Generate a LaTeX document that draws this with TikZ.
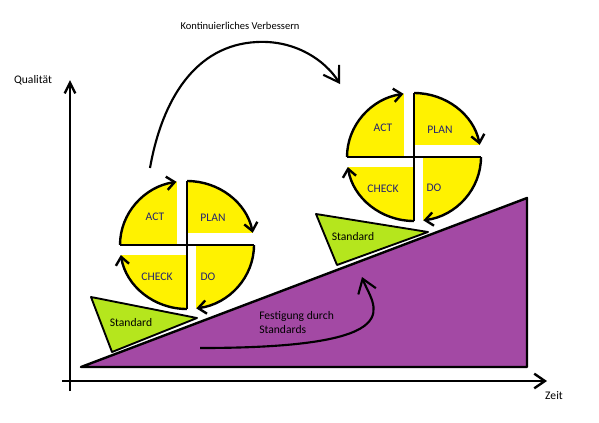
\documentclass[tikz,border=0pt]{standalone}
\usepackage{fontspec}
\setmainfont{Carlito}
\usetikzlibrary{arrows.meta}

\begin{document}
\begin{tikzpicture}[x=0.75pt,y=0.75pt,yscale=-1,xscale=1,
  thick line/.style={line width=1.8pt},
  wheel tip/.style={-{Straight Barb[length=6pt,width=10pt]}},
  lbl/.style={inner sep=0.75pt,font=\fontsize{8.7}{10.5}\selectfont,text={rgb, 255:red, 36; green, 36; blue, 112 }},
  txt/.style={inner sep=0.75pt,font=\fontsize{8.7}{10.5}\selectfont},
]
\useasboundingbox (0,0) rectangle (599,422);

%Shape: Polygon [id:ramp] 
\draw [thick line,line join=round,fill={rgb, 255:red, 163; green, 73; blue, 164 }  ,fill opacity=1 ] (81,367) -- (527,198) -- (527,367) -- cycle ;
%Shape: Triangle [id:std1] 
\draw [line width=1.4pt,line join=round,fill={rgb, 255:red, 181; green, 230; blue, 29 }  ,fill opacity=1 ] (91,297) -- (197,318) -- (112,352) -- cycle ;
%Shape: Triangle [id:std2] 
\draw [line width=1.4pt,line join=round,fill={rgb, 255:red, 181; green, 230; blue, 29 }  ,fill opacity=1 ] (316,214) -- (428,232) -- (337,265) -- cycle ;

%Straight Lines [id:yaxis] 
\coordinate (ybot) at (70,391) ;
\coordinate (ytop) at (70,80) ;
\draw [thick line,-{Straight Barb[length=8pt,width=8pt]}] (ybot) -- (ytop) ;
%Straight Lines [id:xaxis] 
\coordinate (xleft) at (62,381) ;
\coordinate (xright) at (547,381) ;
\draw [thick line,-{Straight Barb[length=8pt,width=11pt]}] (xleft) -- (xright) ;

%Shape: PDCA wheel [id:wheel1] 
\begin{scope}[shift={(187,245)}]
\fill [fill={rgb, 255:red, 255; green, 242; blue, 0 }] (0,0) ellipse [x radius=67, y radius=64] ;
\fill [white] (-10,-67) rectangle (0,0) ;
\fill [white] (0,-12) rectangle (70,0) ;
\fill [white] (0,0) rectangle (9,67) ;
\fill [white] (-70,0) rectangle (0,10) ;
\draw [thick line] (-67,0) -- (67,0) ;
\draw [thick line] (0,-64) -- (0,64) ;
\draw [thick line,wheel tip] (-67,0) arc [start angle=180,end angle=261,x radius=67,y radius=64] ;
\draw [thick line,wheel tip] (0,-64) arc [start angle=270,end angle=349,x radius=67,y radius=64] ;
\draw [thick line,wheel tip] (67,0) arc [start angle=0,end angle=82,x radius=67,y radius=64] ;
\draw [thick line,wheel tip] (0,64) arc [start angle=90,end angle=171,x radius=67,y radius=64] ;
\end{scope}

%Shape: PDCA wheel [id:wheel2] 
\begin{scope}[shift={(414,157)}]
\fill [fill={rgb, 255:red, 255; green, 242; blue, 0 }] (0,0) ellipse [x radius=67, y radius=64] ;
\fill [white] (-10,-67) rectangle (0,0) ;
\fill [white] (0,-12) rectangle (70,0) ;
\fill [white] (0,0) rectangle (9,67) ;
\fill [white] (-70,0) rectangle (0,10) ;
\draw [thick line] (-67,0) -- (67,0) ;
\draw [thick line] (0,-64) -- (0,64) ;
\draw [thick line,wheel tip] (-67,0) arc [start angle=180,end angle=261,x radius=67,y radius=64] ;
\draw [thick line,wheel tip] (0,-64) arc [start angle=270,end angle=349,x radius=67,y radius=64] ;
\draw [thick line,wheel tip] (67,0) arc [start angle=0,end angle=82,x radius=67,y radius=64] ;
\draw [thick line,wheel tip] (0,64) arc [start angle=90,end angle=171,x radius=67,y radius=64] ;
\end{scope}

%Curve Lines [id:improve] 
\coordinate (kvstart) at (150,168) ;
\coordinate (kvtop) at (257,42) ;
\coordinate (kvend) at (340,84) ;
\draw [line width=1.6pt,-{Straight Barb[length=11pt,width=14pt]}] (kvstart) .. controls (162,100) and (195,45) .. (kvtop) .. controls (295,40) and (325,60) .. (kvend) ;
%Curve Lines [id:settle] 
\coordinate (fgstart) at (200,348) ;
\coordinate (fgend) at (362,277) ;
\draw [line width=1.6pt,-{Straight Barb[length=10pt,width=14pt]}] (fgstart) .. controls (420,348) and (372,305) .. (fgend) ;

% Text Node
\draw (155,217) node [lbl] (act1) {ACT};
% Text Node
\draw (213,218) node [lbl] (plan1) {PLAN};
% Text Node
\draw (157,277) node [lbl] (check1) {CHECK};
% Text Node
\draw (208,277) node [lbl] (do1) {DO};
% Text Node
\draw (383,128) node [lbl] (act2) {ACT};
% Text Node
\draw (440,130) node [lbl] (plan2) {PLAN};
% Text Node
\draw (383,189) node [lbl] (check2) {CHECK};
% Text Node
\draw (434,188) node [lbl] (do2) {DO};
% Text Node
\draw (131,323) node [txt] (stdtxt1) {Standard};
% Text Node
\draw (353,237) node [txt] (stdtxt2) {Standard};
% Text Node
\draw (240,26) node [inner sep=0.75pt,font=\fontsize{7.9}{9.5}\selectfont] (kv) {Kontinuierliches Verbessern};
% Text Node
\draw (258,323) node [txt,anchor=west,align=left] (fest) {Festigung durch\\Standards};
% Text Node
\draw (33,80) node [txt] (qual) {Qualität};
% Text Node
\draw (554,396) node [txt] (zeit) {Zeit};

\end{tikzpicture}
\end{document}
